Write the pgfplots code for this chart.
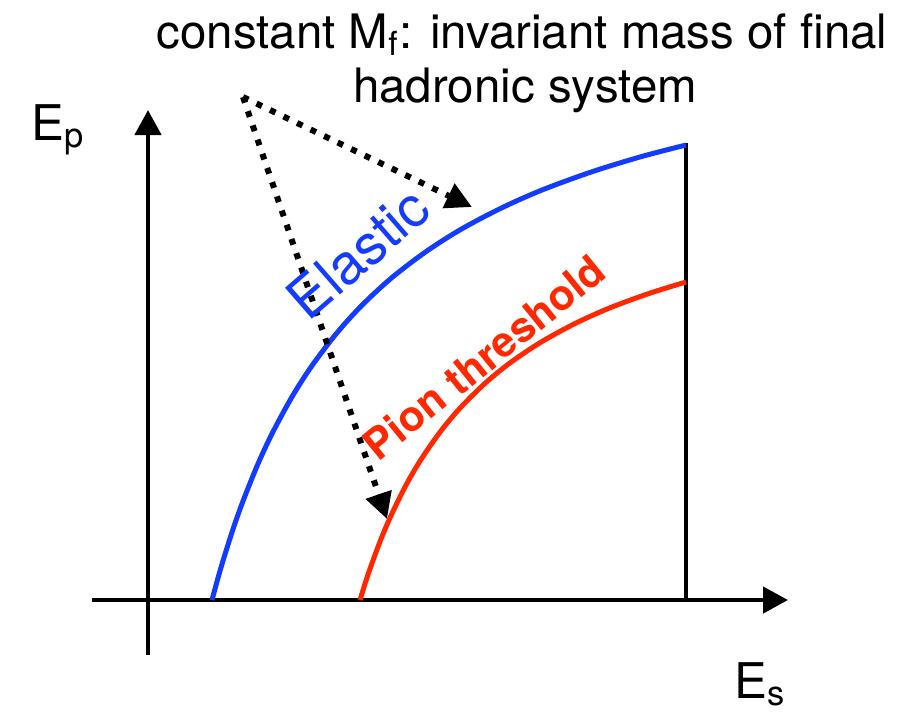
\documentclass[border=0pt]{standalone}
\usepackage{fontspec}
\setmainfont{TeX Gyre Heros}
\usepackage{pgfplots}
\pgfplotsset{compat=1.18}
\usetikzlibrary{arrows.meta}
\definecolor{eblue}{RGB}{20,60,255}
\definecolor{pred}{RGB}{255,40,0}
\begin{document}
\begin{tikzpicture}
\begin{axis}[width=91.7mm,height=71.1mm,scale only axis,hide axis,
  xmin=0,xmax=917,ymin=0,ymax=711,y dir=reverse,clip=false]
\path (axis cs:0,0) rectangle (axis cs:917,711);
% axes
\addplot[black,line width=0.45mm,-{Triangle[length=2.5mm,width=2.6mm]}] coordinates {(92,600)(788,600)};
\addplot[black,line width=0.45mm,-{Triangle[length=2.5mm,width=2.6mm]}] coordinates {(148,655)(148,110)};
\addplot[black,line width=0.45mm] coordinates {(686,143)(686,602)};
% elastic
\addplot[eblue,line width=0.5mm,smooth] coordinates {(212,600)(217,581.5)(222,564.1)(232,532.2)(242,503.7)(257,466.1)(272,433.7)(292,396.8)(312,365.6)(337,332.8)(362,305.2)(392,277.5)(427,250.9)(462,228.7)(502,207.7)(542,190)(592,171.7)(642,156.4)(686,145)};
% pion threshold
\addplot[pred,line width=0.5mm,smooth] coordinates {(360,600)(365,583.8)(370,568.8)(380,541.6)(390,517.8)(405,487)(420,461)(440,432.1)(460,408.1)(485,383.3)(510,362.9)(540,342.7)(575,323.5)(610,307.8)(650,293.1)(686,282)};
% dotted arrows
\addplot[black,line width=0.6mm,dash pattern=on 0.6mm off 0.9mm,-{Triangle[length=2.6mm,width=2.6mm]}] coordinates {(243,97)(472,207)};
\addplot[black,line width=0.6mm,dash pattern=on 0.6mm off 0.9mm,-{Triangle[length=2.6mm,width=2.6mm]}] coordinates {(243,97)(387,519)};
% labels
\node[anchor=base,font=\fontsize{13.5}{16}\selectfont] at (axis cs:522,48) {constant M\textsubscript{f}: invariant mass of final};
\node[anchor=base,font=\fontsize{13.5}{16}\selectfont] at (axis cs:525,102) {hadronic system};
\node[anchor=base west,inner sep=0pt,font=\fontsize{14}{17}\selectfont] at (axis cs:31,140) {E\textsubscript{p}};
\node[anchor=base west,inner sep=0pt,font=\fontsize{14}{17}\selectfont] at (axis cs:734,698) {E\textsubscript{s}};
\node[anchor=center,rotate=41,text=eblue,font=\fontsize{16}{19}\selectfont] at (axis cs:358,253) {Elastic};
\node[anchor=center,rotate=39,text=pred,font=\fontsize{12}{14}\bfseries] at (axis cs:484,357) {Pion threshold};
\end{axis}
\end{tikzpicture}
\end{document}
